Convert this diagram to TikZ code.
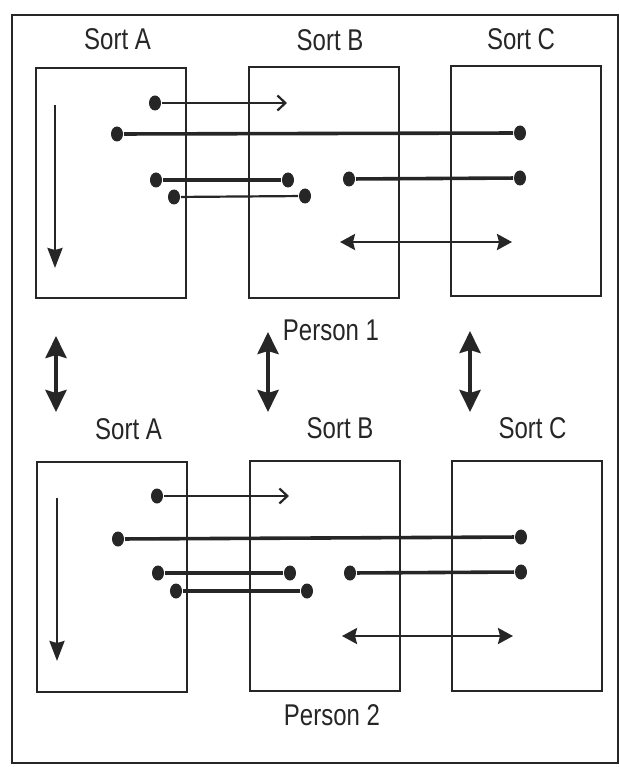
\documentclass[tikz,border=0pt]{standalone}
\usepackage{fontspec}
\setmainfont{Liberation Sans}
\newfontfamily\sortfont[FakeStretch=0.8]{Liberation Sans}
\usetikzlibrary{arrows.meta,positioning,shapes.geometric}

\begin{document}
\begin{tikzpicture}[
    x=1pt,y=-1pt,color=black!85,line width=2pt,
    sortbox/.style = {rectangle,draw,line width=2pt,minimum width=150pt,minimum height=230pt,inner sep=0},
    sorttitle/.style = {inner sep=0,font=\sortfont\fontsize{30}{32}\selectfont},
    dot/.style = {ellipse,fill,minimum width=12pt,minimum height=15pt,inner sep=0},
    link/.style = {line width=3.6pt},
    fine/.style = {line width=2.2pt},
    barb/.style = {-{Straight Barb[length=8pt,width=15pt]}},
    tipdown/.style = {line width=2.4pt,-{Stealth[length=20pt,width=15pt,inset=2pt]}},
    twotip/.style = {line width=2.6pt,{Stealth[length=15pt,width=16pt,inset=2pt]}-{Stealth[length=15pt,width=16pt,inset=2pt]}},
    bigboth/.style = {line width=4pt,{Stealth[length=22pt,width=21pt,inset=3pt]}-{Stealth[length=22pt,width=21pt,inset=3pt]}}
  ]
  \useasboundingbox (0,0) rectangle (620,767);
  \draw (12,15) rectangle (618,763);

  % person 1
  \node (boxA1) [sortbox] at (110.5,183) {};
  \node (boxB1) [sortbox] at (324,182.5) {};
  \node (boxC1) [sortbox] at (526,181) {};
  \node (titleA1) [sorttitle,above = 16pt of boxA1,xshift=7pt] {Sort A};
  \node (titleB1) [sorttitle,above = 15pt of boxB1,xshift=6pt] {Sort B};
  \node (titleC1) [sorttitle,above = 14pt of boxC1,xshift=-5pt] {Sort C};
  \node (person1) [sorttitle,below = 20pt of boxB1,xshift=7pt] {Person 1};

  \coordinate (downA1) at (55,105);
  \coordinate (downA1e) at (55,268);
  \node (p1) [dot] at (155,103) {};
  \coordinate (p1e) at (287,103);
  \node (q1) [dot] at (117,134) {};
  \node (q1e) [dot] at (520,133) {};
  \node (r1) [dot] at (156,180) {};
  \node (r1e) [dot] at (288,180) {};
  \node (s1) [dot] at (174,197) {};
  \node (s1e) [dot] at (305,196) {};
  \node (t1) [dot] at (349,179) {};
  \node (t1e) [dot] at (520,178) {};
  \coordinate (u1) at (340,242);
  \coordinate (u1e) at (512,242);

  \draw [tipdown] (downA1) -- (downA1e);
  \draw [fine,barb] (p1) -- (p1e);
  \draw [link] (q1) -- (q1e);
  \draw [link] (r1) -- (r1e);
  \draw [fine] (s1) -- (s1e);
  \draw [link] (t1) -- (t1e);
  \draw [twotip] (u1) -- (u1e);

  % swap between persons
  \coordinate (swapA) at (56,336);
  \coordinate (swapAe) at (56,412);
  \coordinate (swapB) at (268,332);
  \coordinate (swapBe) at (268,412);
  \coordinate (swapC) at (470,331);
  \coordinate (swapCe) at (470,412);
  \draw [bigboth] (swapA) -- (swapAe);
  \draw [bigboth] (swapB) -- (swapBe);
  \draw [bigboth] (swapC) -- (swapCe);

  % person 2
  \node (boxA2) [sortbox] at (111.5,577) {};
  \node (boxB2) [sortbox] at (325,576) {};
  \node (boxC2) [sortbox] at (526.5,575.5) {};
  \node (titleA2) [sorttitle,above = 20pt of boxA2,xshift=17pt] {Sort A};
  \node (titleB2) [sorttitle,above = 20pt of boxB2,xshift=15pt] {Sort B};
  \node (titleC2) [sorttitle,above = 20pt of boxC2,xshift=6pt] {Sort C};
  \node (person2) [sorttitle,below = 12pt of boxB2,xshift=7pt] {Person 2};

  \coordinate (downA2) at (57,498);
  \coordinate (downA2e) at (57,661);
  \node (p2) [dot] at (157,496) {};
  \coordinate (p2e) at (289,496);
  \node (q2) [dot] at (118,539) {};
  \node (q2e) [dot] at (521,537) {};
  \node (r2) [dot] at (158,573) {};
  \node (r2e) [dot] at (290,573) {};
  \node (s2) [dot] at (176,591) {};
  \node (s2e) [dot] at (307,591) {};
  \node (t2) [dot] at (350,573) {};
  \node (t2e) [dot] at (521,572) {};
  \coordinate (u2) at (342,636);
  \coordinate (u2e) at (513,636);

  \draw [tipdown] (downA2) -- (downA2e);
  \draw [fine,barb] (p2) -- (p2e);
  \draw [link] (q2) -- (q2e);
  \draw [link] (r2) -- (r2e);
  \draw [link] (s2) -- (s2e);
  \draw [link] (t2) -- (t2e);
  \draw [twotip] (u2) -- (u2e);
\end{tikzpicture}
\end{document}
